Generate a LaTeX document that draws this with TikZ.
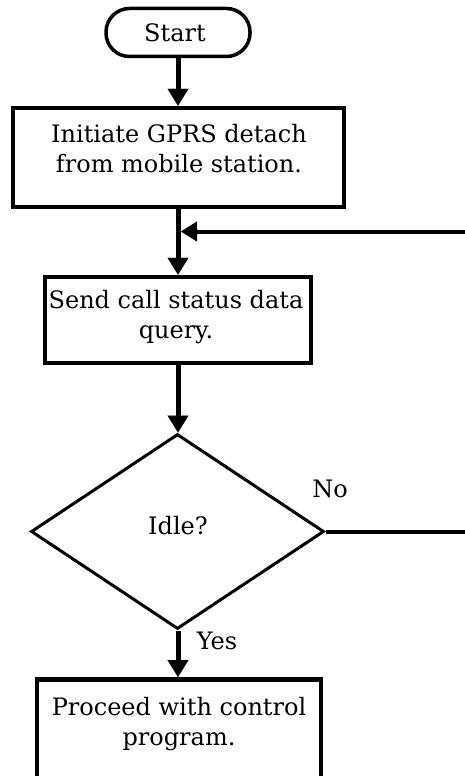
\documentclass[tikz,border=0pt]{standalone}
\usepackage{fontspec}
\setmainfont{DejaVu Serif}
\usetikzlibrary{arrows.meta,shapes.geometric}
\begin{document}
\begin{tikzpicture}[x=1pt,y=-1pt,
  every node/.style={font=\fontsize{24}{30}\selectfont, inner sep=0pt},
  term/.style={draw, line width=3.5pt, rectangle, rounded corners=23.5pt,
    minimum width=144pt, minimum height=48pt},
  box/.style={draw, line width=4.5pt, rectangle},
  dec/.style={draw, diamond, line width=3pt, minimum width=293pt, minimum height=195pt},
  txt/.style={align=center},
  tip/.style={-{Triangle[length=17pt,width=21pt,line width=0.1pt]}},
  flow/.style={line width=5pt, tip},
  back/.style={line width=4pt, -{Triangle[length=16pt,width=20pt,line width=0.1pt]}},
  plain/.style={line width=4pt}
]
\useasboundingbox (0,0) rectangle (465,776);
\clip (0,0) rectangle (465,776);

% process steps
\node[term] (start) at (178,32.5) {};
\node[txt] (ts) at (175,32.5) {Start};
\node[box, minimum width=331pt, minimum height=99pt] (b1) at (178.5,157.5) {};
\node[txt] (t1) at (179,149) {Initiate GPRS detach\\from mobile station.};
\node[box, minimum width=266pt, minimum height=86pt] (b2) at (178,320) {};
\node[txt] (t2) at (176,317.5) {Send call status data\\query.};
\node[dec] (d) at (177.5,531.5) {};
\node[txt] (t3) at (178,526) {Idle?};
\node[box, minimum width=284pt, minimum height=160pt, anchor=north] (b3) at (179,677) {};
\node[txt] (t4) at (179,724.5) {Proceed with control\\program.};

% branch labels
\node (yes) at (217,641) {Yes};
\node (no) at (330,489) {No};

% open ends at the right margin
\coordinate (loopin) at (470,231.5);
\coordinate (noout) at (470,532);

% connectors
\draw[flow] (start.south) -- (start.south |- b1.north);
\draw[flow] (b1.south -| start.south) -- (start.south |- b2.north);
\draw[back] (loopin) -- ([xshift=3pt]start.south |- loopin);
\draw[flow] (b2.south -| start.south) -- (start.south |- d.north);
\draw[plain] (d.east) -- (d.east -| noout);
\draw[flow] (d.south -| start.south) -- (start.south |- b3.north);
\end{tikzpicture}
\end{document}
